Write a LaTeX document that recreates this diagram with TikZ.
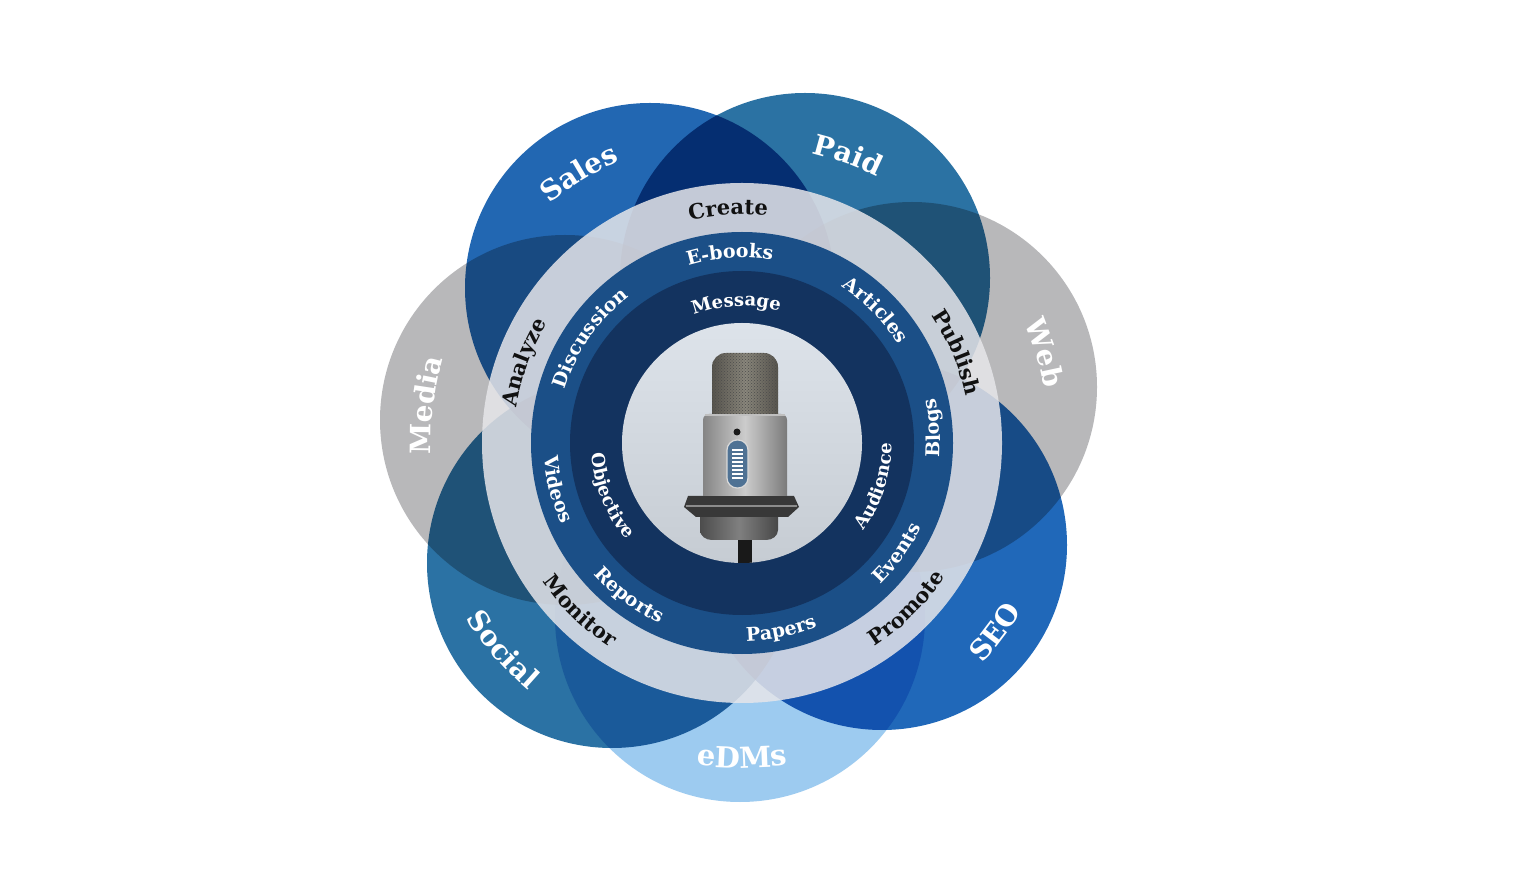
\documentclass[tikz,border=0pt]{standalone}
\usepackage{fontspec}
\setmainfont{DejaVu Serif}
\usetikzlibrary{decorations.text,patterns}

\definecolor{csales}{HTML}{2267B2}
\definecolor{cpaid}{HTML}{2B72A3}
\definecolor{cgray}{HTML}{B8B8BA}
\definecolor{cseo}{HTML}{2068B9}
\definecolor{cedm}{HTML}{9DCBF0}
\definecolor{csocial}{HTML}{2B72A4}
\definecolor{ringlight}{HTML}{E6E6EA}
\definecolor{ringmid}{HTML}{1B4F87}
\definecolor{ringdark}{HTML}{13335F}
\definecolor{bgtop}{HTML}{DDE3EA}
\definecolor{bgbot}{HTML}{C6CCD3}
\definecolor{txtdark}{HTML}{111111}
\definecolor{ledblue}{HTML}{4F7294}
\definecolor{meshmid}{HTML}{8A877C}
\definecolor{meshedge}{HTML}{57544D}

% #1 baseline radius, #2 centre angle, #3 font size, #4 colour, #5 text
\newcommand\cwlabel[5]{%
  \path[decorate,decoration={text along path,text align=center,
    text={|\fontsize{#3}{#3}\selectfont\bfseries\color{#4}|#5}}]
    ([shift={(742,449)}]#2+60:#1) arc[start angle=#2+60,end angle=#2-60,radius=#1];}
\newcommand\ccwlabel[5]{%
  \path[decorate,decoration={text along path,text align=center,
    text={|\fontsize{#3}{#3}\selectfont\bfseries\color{#4}|#5}}]
    ([shift={(742,449)}]#2-60:#1) arc[start angle=#2-60,end angle=#2+60,radius=#1];}

\begin{document}
\begin{tikzpicture}[x=1pt,y=1pt]
\useasboundingbox (0,0) rectangle (1533,892);
\fill[white] (0,0) rectangle (1533,892);
\coordinate (C) at (742,449);

% petals
\begin{scope}[blend mode=multiply]
  \fill[csales]  (650,604) circle[radius=185];
  \fill[cpaid]   (805,614) circle[radius=185];
  \fill[cgray]   (912,505) circle[radius=185];
  \fill[cseo]    (882,347) circle[radius=185];
  \fill[cedm]    (740,275) circle[radius=185];
  \fill[csocial] (612,329) circle[radius=185];
  \fill[cgray]   (565,472) circle[radius=185];
\end{scope}

% rings
\fill[ringlight,opacity=0.85] (C) circle[radius=260];
\fill[ringmid] (C) circle[radius=211];
\fill[ringdark] (C) circle[radius=172];

% centre with microphone
\begin{scope}
  \clip (C) circle[radius=120];
  \shade[top color=bgtop,bottom color=bgbot] (C) circle[radius=120];
  % pole
  \fill[black!90] (738,300) rectangle (752,356);
  % lower cup
  \shade[left color=black!70,right color=black!72,middle color=black!50]
    (700,380) -- (700,362) to[out=-90,in=180] (712,352) -- (766,352)
    to[out=0,in=-90] (778,362) -- (778,380) -- cycle;
  % mount
  \fill[black!78] (688,396) -- (794,396) -- (799,385) -- (788,375) -- (696,375) -- (684,385) -- cycle;
  \draw[black!45,line width=1.2] (686,386) -- (797,386);
  % body
  \shade[left color=black!48,right color=black!52,middle color=black!20]
    (703,396) -- (703,472) to[out=90,in=180] (709,478) -- (781,478)
    to[out=0,in=90] (787,472) -- (787,396) -- cycle;
  % grille
  \shade[left color=meshedge,right color=meshedge,middle color=meshmid]
    (712,477) -- (712,525) to[out=90,in=180] (726,539) -- (764,539)
    to[out=0,in=90] (778,525) -- (778,477) -- cycle;
  \fill[pattern=crosshatch dots,pattern color=black!70]
    (712,477) -- (712,525) to[out=90,in=180] (726,539) -- (764,539)
    to[out=0,in=90] (778,525) -- (778,477) -- cycle;
  \draw[black!25,line width=1.5] (705,477) -- (785,477);
  % hole
  \fill[black!90] (737,460) circle[radius=3.5];
  % LED pill
  \fill[ledblue,draw=white!70!gray,line width=1.2,rounded corners=10]
    (727,404) rectangle (748,452);
  \foreach \yy in {442,438,...,414}
    \draw[white,line width=1.5] (732,\yy) -- (743,\yy);
\end{scope}

% inner dark ring
\cwlabel{137}{92.4}{18}{white}{Message}
\ccwlabel{151}{202}{18}{white}{Objective}
\ccwlabel{150}{-18}{18}{white}{Audience}

% middle ring
\cwlabel{185}{93.7}{19}{white}{E-books}
\cwlabel{185}{44.8}{19}{white}{Articles}
\ccwlabel{198}{4.4}{19}{white}{Blogs}
\ccwlabel{198}{-35.4}{19}{white}{Events}
\ccwlabel{198}{-78.2}{19}{white}{Papers}
\ccwlabel{198}{233.5}{19}{white}{Reports}
\ccwlabel{198}{194}{19}{white}{Videos}
\cwlabel{185}{145.5}{19}{white}{Discussion}

% light ring
\cwlabel{228.5}{93.4}{21}{txtdark}{Create}
\cwlabel{228.5}{22.9}{21}{txtdark}{Publish}
\ccwlabel{243}{-45.2}{21}{txtdark}{Promote}
\ccwlabel{243}{226}{21}{txtdark}{Monitor}
\cwlabel{228.5}{159.8}{21}{txtdark}{Analyze}

% petals' labels
\cwlabel{307}{121.2}{28}{white}{Sales}
\cwlabel{298}{69.8}{28}{white}{Paid}
\cwlabel{307}{16.7}{28}{white}{Web}
\ccwlabel{326}{-36.8}{28}{white}{SEO}
\ccwlabel{325}{-90}{29}{white}{eDMs}
\ccwlabel{327}{220.8}{28}{white}{Social}
\cwlabel{311}{173.2}{28}{white}{Media}
\end{tikzpicture}
\end{document}
